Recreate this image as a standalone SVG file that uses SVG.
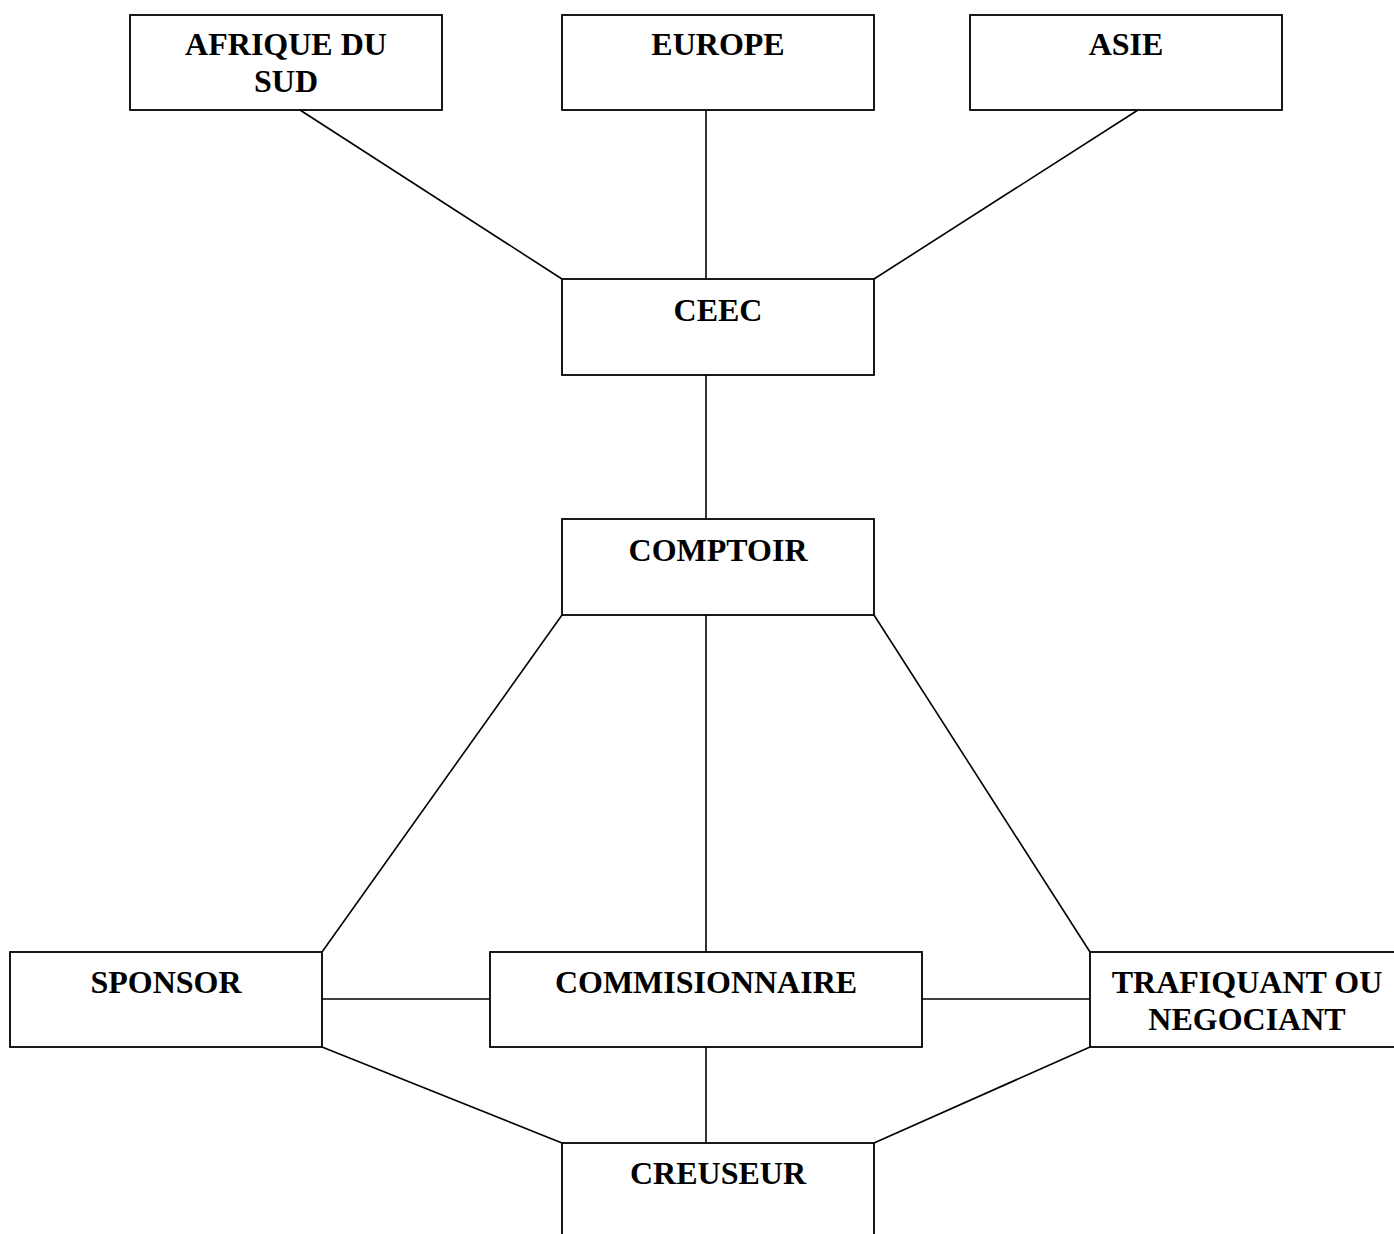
<svg xmlns="http://www.w3.org/2000/svg" width="1394" height="1234" viewBox="0 0 1394 1234">
<style>
.box{fill:#fff;stroke:#000;stroke-width:1.8}
.ln{stroke:#000;stroke-width:1.6;fill:none}
text{font-family:"Liberation Serif","Times New Roman",serif;font-weight:bold;font-size:32px;text-anchor:middle;fill:#000}
</style>
<rect width="1394" height="1234" fill="#fff"/>
<g id="connectors">
<line class="ln" x1="300" y1="110" x2="562" y2="279"/>
<line class="ln" x1="706" y1="110" x2="706" y2="279"/>
<line class="ln" x1="1138" y1="110" x2="874" y2="279"/>
<line class="ln" x1="706" y1="375" x2="706" y2="519"/>
<line class="ln" x1="562" y1="615" x2="322" y2="952"/>
<line class="ln" x1="706" y1="615" x2="706" y2="952"/>
<line class="ln" x1="874" y1="615" x2="1090" y2="952"/>
<line class="ln" x1="322" y1="999" x2="490" y2="999"/>
<line class="ln" x1="922" y1="999" x2="1090" y2="999"/>
<line class="ln" x1="322" y1="1047" x2="562" y2="1143"/>
<line class="ln" x1="706" y1="1047" x2="706" y2="1143"/>
<line class="ln" x1="1090" y1="1047" x2="874" y2="1143"/>
</g>
<g id="afrique"><rect class="box" x="130" y="15" width="312" height="95"/><text x="286" y="55">AFRIQUE DU</text><text x="286" y="92">SUD</text></g>
<g id="europe"><rect class="box" x="562" y="15" width="312" height="95"/><text x="718" y="55">EUROPE</text></g>
<g id="asie"><rect class="box" x="970" y="15" width="312" height="95"/><text x="1126" y="55">ASIE</text></g>
<g id="ceec"><rect class="box" x="562" y="279" width="312" height="96"/><text x="718" y="321">CEEC</text></g>
<g id="comptoir"><rect class="box" x="562" y="519" width="312" height="96"/><text x="718" y="561">COMPTOIR</text></g>
<g id="sponsor"><rect class="box" x="10" y="952" width="312" height="95"/><text x="166" y="993">SPONSOR</text></g>
<g id="commisionnaire"><rect class="box" x="490" y="952" width="432" height="95"/><text x="706" y="993">COMMISIONNAIRE</text></g>
<g id="trafiquant"><rect class="box" x="1090" y="952" width="314" height="95"/><text x="1247" y="993">TRAFIQUANT OU</text><text x="1247" y="1030">NEGOCIANT</text></g>
<g id="creuseur"><rect class="box" x="562" y="1143" width="312" height="100"/><text x="718" y="1184">CREUSEUR</text></g>
</svg>
